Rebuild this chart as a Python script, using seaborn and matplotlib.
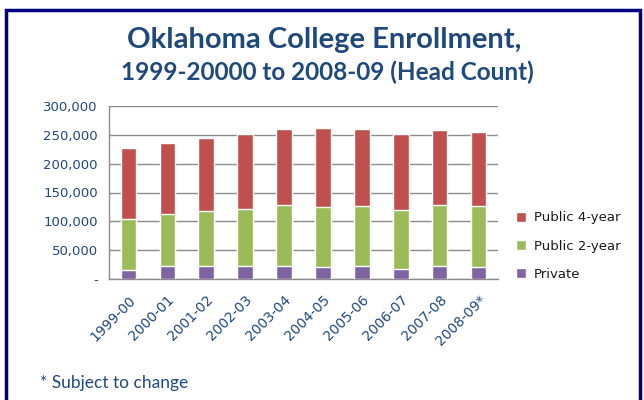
import numpy as np
import pandas as pd
import seaborn as sb
import matplotlib.pyplot as plt
from matplotlib.patches import Rectangle
from matplotlib.ticker import FuncFormatter, FixedLocator

# enrollment by school year (head count)
years = ["1999-00", "2000-01", "2001-02", "2002-03", "2003-04",
         "2004-05", "2005-06", "2006-07", "2007-08", "2008-09*"]
private = [15000, 22000, 22000, 22000, 22000, 20300, 22000, 16800, 22000, 20300]
public_2yr = [89600, 90700, 95900, 99900, 106300, 104000, 104000, 102900, 105800, 105700]
public_4yr = [123100, 123700, 126600, 130100, 131800, 137000, 134100, 132300, 130000, 129400]

navy = "#1F497D"
red = "#C0504D"
green = "#9BBB59"
purple = "#8064A2"

sb.set_style("white")
plt.rcParams['font.family'] = ['DejaVu Sans']

df = pd.DataFrame({"year": years, "private": private,
                   "p2": public_2yr, "p4": public_4yr})
# stacked by layering cumulative sums
df["lvl2"] = df["private"] + df["p2"]
df["lvl3"] = df["lvl2"] + df["p4"]

fig = plt.figure(figsize=(6.44, 4.0), dpi=100)
ax = fig.add_axes([109/644, 1 - 279/400, (498 - 109)/644, (279 - 106)/400])

sb.barplot(data=df, x="year", y="lvl3", color=red, width=0.4, saturation=1,
           label="Public 4-year", ax=ax, zorder=3)
sb.barplot(data=df, x="year", y="lvl2", color=green, width=0.4, saturation=1,
           label="Public 2-year", ax=ax, zorder=3)
sb.barplot(data=df, x="year", y="private", color=purple, width=0.4, saturation=1,
           label="Private", ax=ax, zorder=3)

ax.set_ylim(0, 300000)
ax.set_xlim(-0.5, len(years) - 0.5)
ax.set_yticks(np.arange(0, 300001, 50000))
ax.yaxis.set_major_formatter(FuncFormatter(lambda v, p: "-" if v == 0 else f"{int(v):,}"))
ax.grid(axis="y", color="#8C8C8C", linewidth=1, zorder=0)
ax.set_axisbelow(True)
for s in ["top", "right"]:
    ax.spines[s].set_visible(False)
for s in ["left", "bottom"]:
    ax.spines[s].set_color("#8C8C8C")
    ax.spines[s].set_linewidth(1)
ax.set_xlabel("")
ax.set_ylabel("")

# tick marks between categories, excel style
ax.xaxis.set_minor_locator(FixedLocator(np.arange(-0.5, len(years), 1)))
ax.tick_params(axis="x", which="minor", length=5, color="#8C8C8C", direction="out")
ax.tick_params(axis="x", which="major", length=0, pad=10, labelsize=10)
ax.tick_params(axis="y", length=5, color="#8C8C8C", direction="out", pad=3, labelsize=9.5)
ax.tick_params(axis="both", labelcolor=navy)
for lab in ax.get_xticklabels():
    lab.set_rotation(45)
    lab.set_ha("right")
    lab.set_rotation_mode("anchor")

leg = ax.legend(loc="center left", bbox_to_anchor=(504/644, 1 - 246/400),
                bbox_transform=fig.transFigure, frameon=False, fontsize=9.5,
                handlelength=0.75, handleheight=0.75, handletextpad=0.6,
                labelspacing=1.15)
for t in leg.get_texts():
    t.set_color("#1A1A1A")

fig.text(0.503, 1 - 40/400, "Oklahoma College Enrollment,", ha="center", va="center",
         fontsize=21, fontweight="bold", color=navy, family="Lato")
fig.text(0.509, 1 - 72/400, "1999-20000 to 2008-09 (Head Count)", ha="center", va="center",
         fontsize=17.5, fontweight="bold", color=navy, family="Lato")
fig.text(40/644, 1 - 383/400, "* Subject to change", ha="left", va="center",
         fontsize=12.5, color=navy, family="Lato")

# dark frame around the chart
fig.patches.append(Rectangle((6/644, -0.05), (640 - 6)/644, 1.05 - 10/400,
                             transform=fig.transFigure, fill=False,
                             edgecolor="#000080", linewidth=2.5))

fig.savefig("out.png", dpi=100)
